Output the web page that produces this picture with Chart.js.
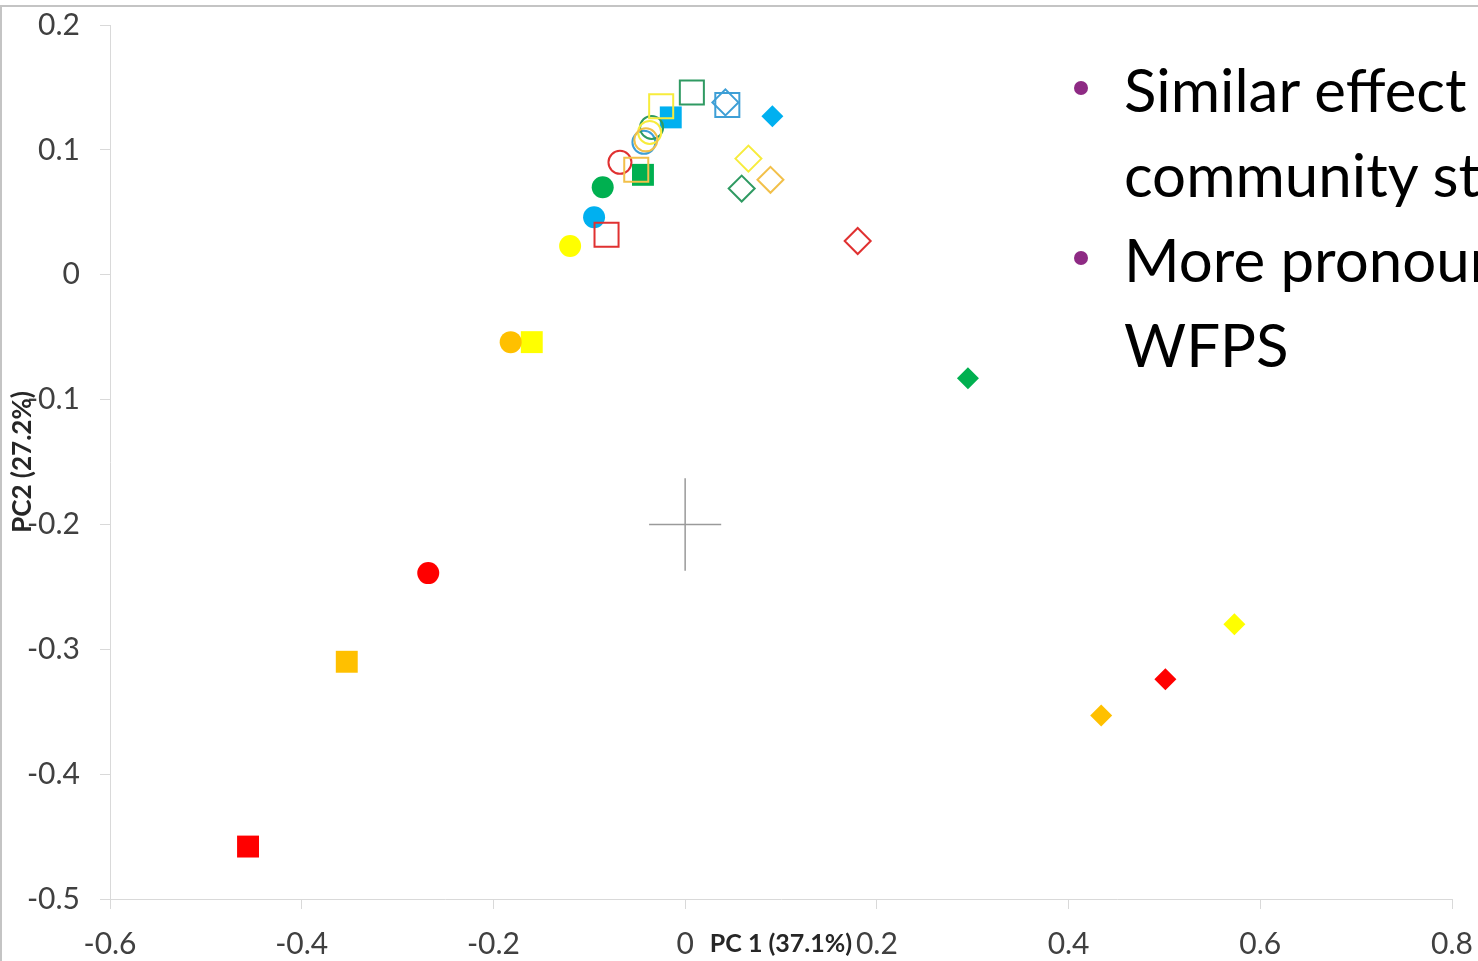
<!DOCTYPE html>
<html>
<head>
<meta charset="utf-8">
<script src="https://cdn.jsdelivr.net/npm/chart.js@4"></script>
<style>
  html, body { margin: 0; padding: 0; background: #fff; overflow: hidden; }
  #wrap { position: relative; width: 1478px; height: 961px; overflow: hidden; }
  #frame { position: absolute; left: 0; top: 5px; width: 1476px; height: 960px;
           border-top: 2px solid #c4c4c4; border-left: 2px solid #c4c4c4; }
  canvas { position: absolute; left: 0; top: 0; }
  #notes { position: absolute; left: 1066px; top: 47px; font-family: Lato, sans-serif;
           font-size: 60px; line-height: 85px; color: #000; white-space: nowrap; }
  #notes div { position: relative; padding-left: 58px; }
  #notes .b::before { content: ""; position: absolute; left: 8px; top: 34px; width: 14px; height: 14px;
                      border-radius: 50%; background: #8e2a84; }
</style>
</head>
<body>
<div id="wrap">
  <div id="frame"></div>
  <canvas id="c" width="1478" height="961"></canvas>
  <div id="notes">
    <div class="b">Similar effect on</div>
    <div>community structure</div>
    <div class="b">More pronounced at</div>
    <div>WFPS</div>
  </div>
</div>
<script>
// PCA scores, [PC1, PC2]; order: red, orange, yellow, green, blue
const squaresFilled  = [[-0.456, -0.458], [-0.353, -0.310], [-0.160, -0.054], [-0.044, 0.080], [-0.015, 0.126]];
const circlesFilled  = [[-0.268, -0.239], [-0.182, -0.054], [-0.120, 0.023], [-0.086, 0.070], [-0.095, 0.046]];
const diamondsFilled = [[0.501, -0.324], [0.434, -0.353], [0.573, -0.280], [0.295, -0.083], [0.091, 0.127]];
const squaresOpen    = [[-0.082, 0.032], [-0.051, 0.084], [-0.025, 0.135], [0.007, 0.146], [0.044, 0.136]];
const circlesOpen    = [[-0.068, 0.090], [-0.041, 0.108], [-0.037, 0.114], [-0.035, 0.118], [-0.043, 0.106]];
const diamondsOpen   = [[0.180, 0.027], [0.089, 0.076], [0.066, 0.093], [0.059, 0.069], [0.042, 0.138]];

// centroid cross (error bars)
const crossH = [[-0.0376, -0.2], [0.0376, -0.2]];
const crossV = [[0.0, -0.163], [0.0, -0.237]];

const fillColors = ['#ff0000', '#ffc000', '#ffff00', '#00b050', '#00b0f0'];
const lineColors = ['#e03131', '#f2c04a', '#f7ec3c', '#2f9a62', '#3e9fd6'];

const xTicks = [-0.6, -0.4, -0.2, 0, 0.2, 0.4, 0.6, 0.8];
const yTicks = [-0.5, -0.4, -0.3, -0.2, -0.1, 0, 0.1, 0.2];
const xTitle = 'PC 1 (37.1%)';
const yTitle = 'PC2 (27.2%)';

const pts = arr => arr.map(p => ({x: p[0], y: p[1]}));

function openSet(arr, style, r) {
  return arr.map((p, i) => ({
    data: pts([p]), pointStyle: style, pointRadius: r, pointBorderWidth: 2,
    pointBackgroundColor: 'rgba(255,255,255,0)', pointBorderColor: lineColors[i],
  }));
}
function filledSet(arr, style, r) {
  return arr.map((p, i) => ({
    data: pts([p]), pointStyle: style, pointRadius: r, pointBorderWidth: 0,
    pointBackgroundColor: fillColors[i], pointBorderColor: fillColors[i],
  }));
}

const datasets = [
  {type: 'line', data: pts(crossH), borderColor: '#9a9a9a', borderWidth: 1.5, pointRadius: 0},
  {type: 'line', data: pts(crossV), borderColor: '#9a9a9a', borderWidth: 1.5, pointRadius: 0},
  ...openSet(diamondsOpen, 'rectRot', 13),
  ...openSet(squaresOpen, 'rect', 17),
  ...openSet(circlesOpen, 'circle', 11.5),
  ...filledSet(diamondsFilled, 'rectRot', 11),
  ...filledSet(circlesFilled, 'circle', 11),
  ...filledSet(squaresFilled, 'rect', 15.5),
];

const axisTitles = {
  id: 'axisTitles',
  afterDraw(chart) {
    const {ctx, chartArea: a} = chart;
    ctx.save();
    ctx.fillStyle = '#262626';
    ctx.textAlign = 'center';
    ctx.textBaseline = 'middle';
    ctx.font = 'bold 25px Lato, sans-serif';
    ctx.fillText(xTitle, (a.left + a.right) / 2, 944);
    ctx.font = 'bold 26px Lato, sans-serif';
    ctx.translate(23, (a.top + a.bottom) / 2);
    ctx.rotate(-Math.PI / 2);
    ctx.fillText(yTitle, 0, 0);
    ctx.restore();
  }
};

const tickFont = {family: 'Lato, sans-serif', size: 30};
const gridOpts = {drawOnChartArea: false, drawTicks: true, tickLength: 10, color: '#d9d9d9'};
const noPad = s => { s.paddingTop = 0; s.paddingBottom = 0; s.paddingLeft = 0; s.paddingRight = 0; };

new Chart(document.getElementById('c'), {
  type: 'scatter',
  data: {datasets},
  plugins: [axisTitles],
  options: {
    responsive: false,
    animation: false,
    layout: {padding: {top: 25, right: 26, left: 0, bottom: 0}},
    plugins: {legend: {display: false}, tooltip: {enabled: false}},
    scales: {
      x: {
        type: 'linear', min: -0.6, max: 0.8,
        afterBuildTicks: s => { s.ticks = xTicks.map(v => ({value: v})); },
        afterFit: s => { s.height = 62; noPad(s); },
        ticks: {font: tickFont, color: '#404040', padding: 17, maxRotation: 0,
                callback: v => String(parseFloat(v.toFixed(1)))},
        grid: gridOpts,
        border: {color: '#d9d9d9', width: 1},
      },
      y: {
        type: 'linear', min: -0.5, max: 0.2,
        afterBuildTicks: s => { s.ticks = yTicks.map(v => ({value: v})); },
        afterFit: s => { s.width = 110; noPad(s); },
        ticks: {font: tickFont, color: '#404040', padding: 20,
                callback: v => String(parseFloat(v.toFixed(1)))},
        grid: gridOpts,
        border: {color: '#d9d9d9', width: 1},
      }
    }
  }
});
</script>
</body>
</html>
